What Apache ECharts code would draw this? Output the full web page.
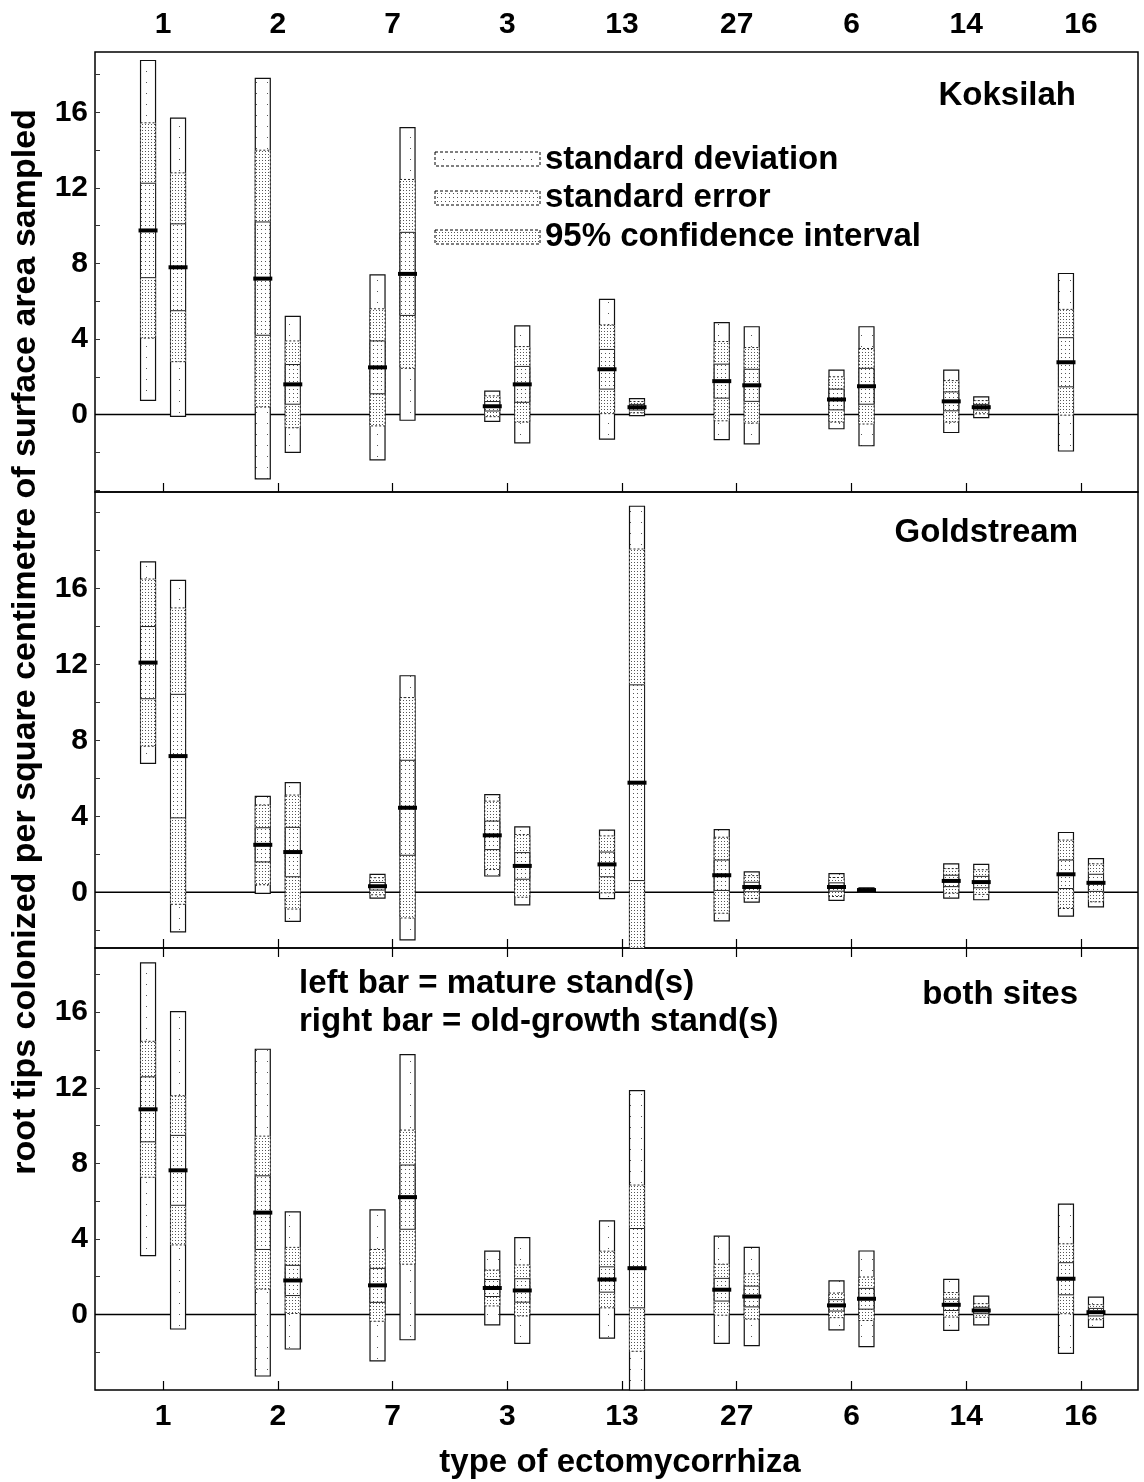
<!DOCTYPE html>
<html>
<head>
<meta charset="utf-8">
<script src="https://cdn.jsdelivr.net/npm/echarts@6/dist/echarts.min.js"></script>
<style>
  html, body { margin: 0; padding: 0; background: #fff; }
  #chart { width: 1144px; height: 1482px; }
</style>
</head>
<body>
<div id="chart"></div>
<script>
// 类别（菌根类型）
var categories = ['1', '2', '7', '3', '13', '27', '6', '14', '16'];
var yLabelValues = [0, 4, 8, 12, 16];

// Koksilah - mature (left bar)
var kokMatMean = [9.75, 7.2, 2.5, 0.44, 2.4, 1.77, 0.8, 0.7, 2.77];
var kokMatSD   = [9.0, 10.6, 4.9, 0.8, 3.7, 3.1, 1.55, 1.65, 4.7];
var kokMatSE   = [2.5, 3.0, 1.4, 0.25, 1.05, 0.9, 0.55, 0.5, 1.3];
var kokMatCI   = [5.7, 6.8, 3.1, 0.55, 2.35, 2.1, 1.2, 1.1, 2.8];
// Koksilah - old-growth (right bar)
var kokOldMean = [7.8, 1.6, 7.45, 1.6, 0.39, 1.55, 1.5, 0.39, null];
var kokOldSD   = [7.9, 3.6, 7.75, 3.1, 0.45, 3.1, 3.15, 0.55, null];
var kokOldSE   = [2.3, 1.05, 2.2, 0.95, 0.15, 0.85, 0.95, 0.15, null];
var kokOldCI   = [5.0, 2.3, 5.0, 2.0, 0.3, 2.0, 2.0, 0.35, null];

// Goldstream - mature
var golMatMean = [12.09, 2.5, 0.32, 3.0, 1.47, 0.9, 0.28, 0.6, 0.95];
var golMatSD   = [5.3, 2.55, 0.63, 2.14, 1.8, 2.4, 0.7, 0.9, 2.2];
var golMatSE   = [1.9, 0.9, 0.2, 0.75, 0.65, 0.8, 0.22, 0.3, 0.75];
var golMatCI   = [4.4, 2.1, 0.45, 1.8, 1.5, 2.0, 0.5, 0.65, 1.8];
// Goldstream - old-growth
var golOldMean = [7.17, 2.12, 4.45, 1.39, 5.77, 0.28, 0.12, 0.54, 0.5];
var golOldSD   = [9.25, 3.65, 6.95, 2.05, 14.55, 0.8, 0.12, 0.93, 1.27];
var golOldSE   = [3.25, 1.3, 2.5, 0.7, 5.15, 0.25, 0.04, 0.3, 0.45];
var golOldCI   = [7.8, 3.0, 5.8, 1.65, 12.3, 0.6, 0.08, 0.65, 1.0];

// both sites - mature
var botMatMean = [10.86, 5.39, 1.54, 1.4, 1.85, 1.31, 0.48, 0.51, 1.89];
var botMatSD   = [7.75, 8.65, 4.0, 1.95, 3.1, 2.84, 1.3, 1.35, 3.95];
var botMatSE   = [1.72, 1.95, 0.9, 0.45, 0.67, 0.6, 0.3, 0.3, 0.85];
var botMatCI   = [3.6, 4.05, 1.9, 0.95, 1.5, 1.35, 0.65, 0.65, 1.85];
// both sites - old-growth
var botOldMean = [7.63, 1.8, 6.21, 1.27, 2.45, 0.95, 0.83, 0.21, 0.12];
var botOldSD   = [8.4, 3.63, 7.55, 2.8, 9.4, 2.6, 2.53, 0.76, 0.8];
var botOldSE   = [1.85, 0.8, 1.7, 0.62, 2.1, 0.55, 0.55, 0.17, 0.2];
var botOldCI   = [3.95, 1.75, 3.55, 1.35, 4.4, 1.2, 1.15, 0.36, 0.4];

var FONT = 'Liberation Sans, Arial, Helvetica, sans-serif';
var X_MIN = -0.593, X_MAX = 8.497;
var catIdx = categories.map(function (c, i) { return i; });
var minorTicks = [];
for (var v = -4; v <= 20; v += 2) minorTicks.push(v);

// 点状纹理
function makePattern(size, dots) {
    var c = document.createElement('canvas');
    c.width = c.height = size;
    var ctx = c.getContext('2d');
    ctx.fillStyle = '#fff';
    ctx.fillRect(0, 0, size, size);
    ctx.fillStyle = '#555';
    dots.forEach(function (d) { ctx.fillRect(d[0], d[1], 1, 1); });
    return { image: c, repeat: 'repeat' };
}
var patSD = makePattern(11, [[3, 5]]);
var patSE = makePattern(4, [[1, 1]]);
var patCI = makePattern(3, [[1, 1]]);

function buildItems(means, sds, ses, cis, side) {
    var out = [];
    means.forEach(function (m, i) {
        if (m == null) return;
        out.push([i, side, m, sds[i], ses[i], cis[i]]);
    });
    return out;
}

function renderBar(params, api) {
    var cat = api.value(0), side = api.value(1), mean = api.value(2);
    var sd = api.value(3), se = api.value(4), ci = api.value(5);
    var cs = params.coordSys;
    var cx = api.coord([cat, 0])[0] + (side === 0 ? -15 : 15);
    var w = 15;
    function box(lo, hi) {
        var y1 = api.coord([cat, hi])[1], y2 = api.coord([cat, lo])[1];
        return echarts.graphic.clipRectByRect({ x: cx - w / 2, y: y1, width: w, height: y2 - y1 }, cs);
    }
    var children = [];
    var r = box(mean - sd, mean + sd);
    if (r) children.push({ type: 'rect', shape: r, style: { fill: patSD, stroke: '#111', lineWidth: 1.2 } });
    r = box(mean - ci, mean + ci);
    if (r) children.push({ type: 'rect', shape: r, style: { fill: patCI, stroke: '#222', lineWidth: 1, lineDash: [2, 2] } });
    r = box(mean - se, mean + se);
    if (r) children.push({ type: 'rect', shape: r, style: { fill: patSE, stroke: '#222', lineWidth: 1 } });
    var my = api.coord([cat, mean])[1];
    children.push({ type: 'rect', shape: { x: cx - 9.5, y: my - 2, width: 19, height: 4 }, style: { fill: '#000' } });
    return { type: 'group', children: children };
}

var grids = [
    { left: 95, right: 6, top: 52, height: 440 },
    { left: 95, right: 6, top: 492, height: 456 },
    { left: 95, right: 6, top: 948, height: 442 }
];
grids.forEach(function (g) {
    g.show = true; g.borderColor = '#000'; g.borderWidth = 1.5; g.backgroundColor = 'transparent';
});

function xAxis(gridIndex, position, showLabel, showTick) {
    return {
        type: 'value', gridIndex: gridIndex, position: position, min: X_MIN, max: X_MAX,
        axisLine: { show: false, onZero: false }, splitLine: { show: false },
        axisTick: { show: showTick, inside: true, length: 9, customValues: catIdx, lineStyle: { color: '#000', width: 1.2 } },
        axisLabel: {
            show: showLabel, customValues: catIdx, margin: 12,
            fontSize: 30, fontWeight: 'bold', color: '#000', fontFamily: FONT,
            formatter: function (v) { return categories[Math.round(v)]; }
        }
    };
}

function yAxis(gridIndex, min, max) {
    return {
        type: 'value', gridIndex: gridIndex, position: 'left', min: min, max: max,
        axisLine: { show: false, onZero: false }, splitLine: { show: false },
        axisTick: { show: true, inside: true, length: 5, customValues: minorTicks, lineStyle: { color: '#333', width: 1 } },
        axisLabel: {
            customValues: yLabelValues, margin: 7,
            fontSize: 30, fontWeight: 'bold', color: '#000', fontFamily: FONT
        }
    };
}

function zeroLine(xi, yi) {
    return {
        type: 'line', xAxisIndex: xi, yAxisIndex: yi, z: 1, silent: true,
        symbol: 'none', lineStyle: { color: '#000', width: 1.5 },
        data: [[X_MIN, 0], [X_MAX, 0]]
    };
}

function barSeries(xi, yi, data) {
    return {
        type: 'custom', xAxisIndex: xi, yAxisIndex: yi, z: 3, silent: true,
        renderItem: renderBar, data: data
    };
}

var textStyleBig = function (txt, x, y, align) {
    return {
        type: 'text', x: x, y: y, z: 10,
        style: {
            text: txt, font: 'bold 33px ' + FONT, fill: '#000',
            textAlign: align, textVerticalAlign: 'middle', align: align, verticalAlign: 'middle'
        }
    };
};

var legendBox = function (y, pat) {
    return {
        type: 'rect', shape: { x: 435, y: y - 7, width: 105, height: 14 }, z: 10,
        style: { fill: pat, stroke: '#000', lineWidth: 1, lineDash: [3, 2] }
    };
};

var myChart = echarts.init(document.getElementById('chart'), null, { renderer: 'canvas' });

var option = {
    backgroundColor: '#fff',
    animation: false,
    grid: grids,
    xAxis: [
        xAxis(0, 'bottom', false, true),
        xAxis(0, 'top', true, false),
        xAxis(1, 'bottom', false, true),
        xAxis(2, 'bottom', true, true),
        xAxis(2, 'top', false, true)
    ],
    yAxis: [
        yAxis(0, -4.1, 19.2),
        yAxis(1, -2.93, 21.07),
        yAxis(2, -4.0, 19.4)
    ],
    series: [
        zeroLine(0, 0),
        zeroLine(2, 1),
        zeroLine(3, 2),
        barSeries(0, 0, buildItems(kokMatMean, kokMatSD, kokMatSE, kokMatCI, 0)
            .concat(buildItems(kokOldMean, kokOldSD, kokOldSE, kokOldCI, 1))),
        barSeries(2, 1, buildItems(golMatMean, golMatSD, golMatSE, golMatCI, 0)
            .concat(buildItems(golOldMean, golOldSD, golOldSE, golOldCI, 1))),
        barSeries(3, 2, buildItems(botMatMean, botMatSD, botMatSE, botMatCI, 0)
            .concat(buildItems(botOldMean, botOldSD, botOldSE, botOldCI, 1)))
    ],
    graphic: [
        textStyleBig('Koksilah', 1076, 96, 'right'),
        textStyleBig('Goldstream', 1078, 533, 'right'),
        textStyleBig('both sites', 1078, 995, 'right'),
        textStyleBig('left bar = mature stand(s)', 299, 984, 'left'),
        textStyleBig('right bar = old-growth stand(s)', 299, 1022, 'left'),
        legendBox(159, patSD),
        legendBox(198, patSE),
        legendBox(237, patCI),
        textStyleBig('standard deviation', 545, 160, 'left'),
        textStyleBig('standard error', 545, 198, 'left'),
        textStyleBig('95% confidence interval', 545, 237, 'left'),
        textStyleBig('type of ectomycorrhiza', 620, 1463, 'center'),
        {
            type: 'text', x: 26, y: 642, rotation: Math.PI / 2, z: 10,
            style: {
                text: 'root tips colonized per square centimetre of surface area sampled',
                font: 'bold 34px ' + FONT, fill: '#000',
                textAlign: 'center', textVerticalAlign: 'middle', align: 'center', verticalAlign: 'middle'
            }
        }
    ]
};

myChart.setOption(option);
</script>
</body>
</html>
